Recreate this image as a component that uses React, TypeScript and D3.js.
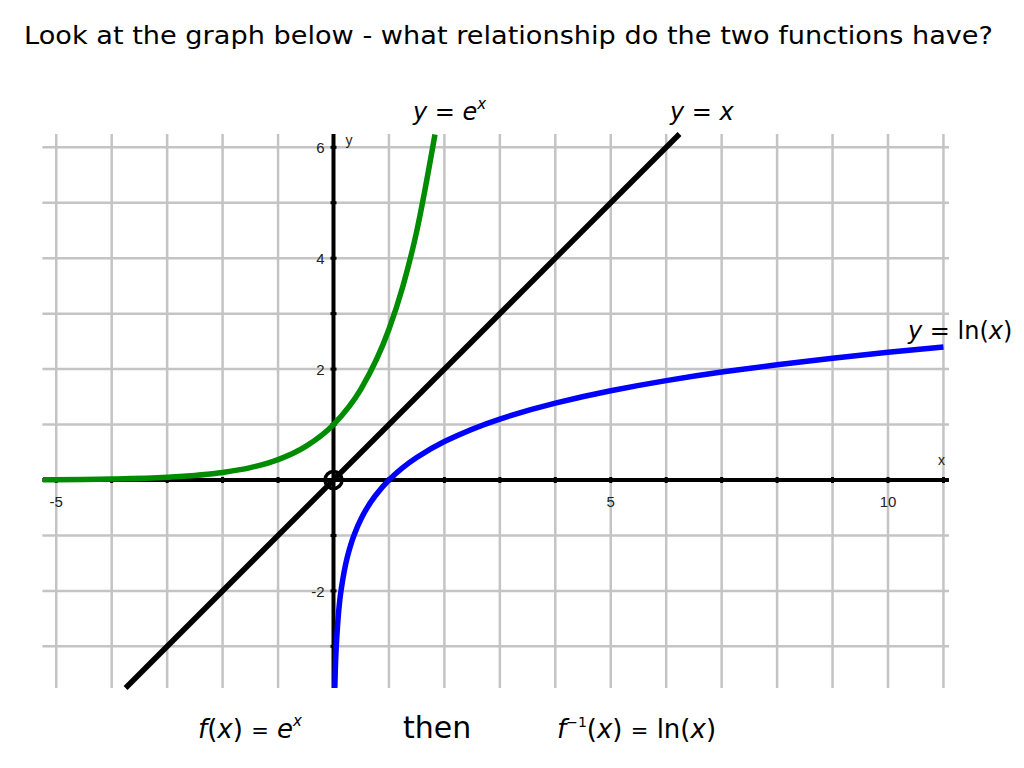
import React from "react";
import * as d3 from "d3";

const expX = [-5.24, -4, -3, -2, -1.5, -1, -0.5, 0, 0.5, 1, 1.25, 1.5, 1.83];
const expY = [0.0053, 0.018, 0.05, 0.135, 0.223, 0.368, 0.607, 1, 1.649, 2.718, 3.49, 4.482, 6.23];
const lnX = [0.0235, 0.05, 0.135, 0.25, 0.368, 0.5, 0.75, 1, 1.5, 2, 3, 4, 5, 6, 7, 8, 9, 10, 11];
const lnY = [-3.75, -3.0, -2, -1.386, -1, -0.693, -0.288, 0, 0.405, 0.693, 1.099, 1.386, 1.609, 1.792, 1.946, 2.079, 2.197, 2.303, 2.398];
const idX = [-3.75, 6.24];
const idY = [-3.75, 6.24];
const xTickLabels = [-5, 5, 10];
const yTickLabels = [6, 4, 2, -2];

const W = 1024;
const H = 768;

export default function App() {
  const x = d3.scaleLinear().domain([0, 10]).range([333.5, 888]);
  const y = d3.scaleLinear().domain([0, 6]).range([480, 147.3]);
  const xMin = -5.25, xMax = 11.1, yMin = -3.75, yMax = 6.24;
  const vGrid = d3.range(-5, 12);
  const hGrid = d3.range(-3, 7);
  const xTicks = d3.range(-5, 12).filter((v) => v !== 0);
  const yTicks = d3.range(-3, 7).filter((v) => v !== 0);

  const lineX = d3.line<[number, number]>().x((d) => x(d[0])).y((d) => y(d[1])).curve(d3.curveMonotoneX);
  const lineY = d3.line<[number, number]>().x((d) => x(d[0])).y((d) => y(d[1])).curve(d3.curveMonotoneY);
  const expPts = expX.map((v, i) => [v, expY[i]] as [number, number]);
  const lnPts = lnX.map((v, i) => [v, lnY[i]] as [number, number]);
  const idPts = idX.map((v, i) => [v, idY[i]] as [number, number]);

  const sans = "'DejaVu Sans', Verdana, sans-serif";
  const tickFont = "'Liberation Sans', Arial, sans-serif";

  return (
    <svg width={W} height={H} style={{ position: "absolute", left: 0, top: 0, background: "#fff" }} fontFamily={sans}>
      <text x={24} y={44} fontSize={25} fill="#000" textLength={969} lengthAdjust="spacingAndGlyphs">
        Look at the graph below - what relationship do the two functions have?
      </text>

      {/* grid */}
      <g stroke="#c4c4c4" strokeWidth={2.5}>
        {vGrid.map((v) => (
          <line key={"v" + v} x1={x(v)} x2={x(v)} y1={y(yMax)} y2={y(yMin)} />
        ))}
        {hGrid.map((v) => (
          <line key={"h" + v} x1={x(xMin)} x2={x(xMax)} y1={y(v)} y2={y(v)} />
        ))}
      </g>

      {/* axes */}
      <g stroke="#000">
        <line x1={x(xMin)} x2={x(xMax)} y1={y(0)} y2={y(0)} strokeWidth={4} />
        <line x1={x(0)} x2={x(0)} y1={y(yMax)} y2={y(yMin)} strokeWidth={4} />
        {xTicks.map((v) => (
          <line key={"xt" + v} x1={x(v)} x2={x(v)} y1={y(0) - 3} y2={y(0) + 3} strokeWidth={3} />
        ))}
        {yTicks.map((v) => (
          <line key={"yt" + v} x1={x(0) - 3} x2={x(0) + 3} y1={y(v)} y2={y(v)} strokeWidth={3} />
        ))}
      </g>

      <g fontFamily={tickFont} fontSize={15} fill="#222">
        {xTickLabels.map((v) => (
          <text key={"xl" + v} x={x(v)} y={y(0) + 27} textAnchor="middle">
            {v < 0 ? "-" + Math.abs(v) : v}
          </text>
        ))}
        {yTickLabels.map((v) => (
          <text key={"yl" + v} x={x(0) - 9} y={y(v) + 6} textAnchor="end">
            {v < 0 ? "-" + Math.abs(v) : v}
          </text>
        ))}
        <text x={x(0) + 12} y={y(yMax) + 11} fontSize={14}>y</text>
        <text x={x(11) - 2} y={y(0) - 15} fontSize={14} textAnchor="middle">x</text>
      </g>

      {/* curves */}
      <path d={lineX(idPts) || ""} fill="none" stroke="#000" strokeWidth={5.5} />
      <path d={lineX(expPts) || ""} fill="none" stroke="#008c00" strokeWidth={5.5} />
      <path d={lineY(lnPts) || ""} fill="none" stroke="#0000ff" strokeWidth={5.5} />
      <circle cx={x(0)} cy={y(0)} r={8.5} fill="none" stroke="#000" strokeWidth={3.5} />

      {/* curve labels */}
      <g fontSize={24} fill="#000">
        <text x={413} y={120}>
          <tspan fontStyle="italic">y</tspan> = <tspan fontStyle="italic">e</tspan>
          <tspan fontStyle="italic" fontSize={15} dy={-11}>x</tspan>
        </text>
        <text x={670} y={120}>
          <tspan fontStyle="italic">y</tspan> = <tspan fontStyle="italic">x</tspan>
        </text>
        <text x={908} y={339}>
          <tspan fontStyle="italic">y</tspan> = ln(<tspan fontStyle="italic">x</tspan>)
        </text>
      </g>

      {/* bottom formulas */}
      <g fill="#000">
        <text x={198} y={738} fontSize={26}>
          <tspan fontStyle="italic">f</tspan>(<tspan fontStyle="italic">x</tspan>) <tspan fontSize={21}>=</tspan> <tspan fontStyle="italic">e</tspan>
          <tspan fontStyle="italic" fontSize={15} dy={-12}>x</tspan>
        </text>
        <text x={403} y={738} fontSize={30}>then</text>
        <text x={557} y={738} fontSize={26}>
          <tspan fontStyle="italic">f</tspan>
          <tspan fontSize={14} dy={-11}>−1</tspan>
          <tspan dy={11}>(</tspan><tspan fontStyle="italic">x</tspan>) <tspan fontSize={21}>=</tspan> ln(<tspan fontStyle="italic">x</tspan>)
        </text>
      </g>
    </svg>
  );
}
